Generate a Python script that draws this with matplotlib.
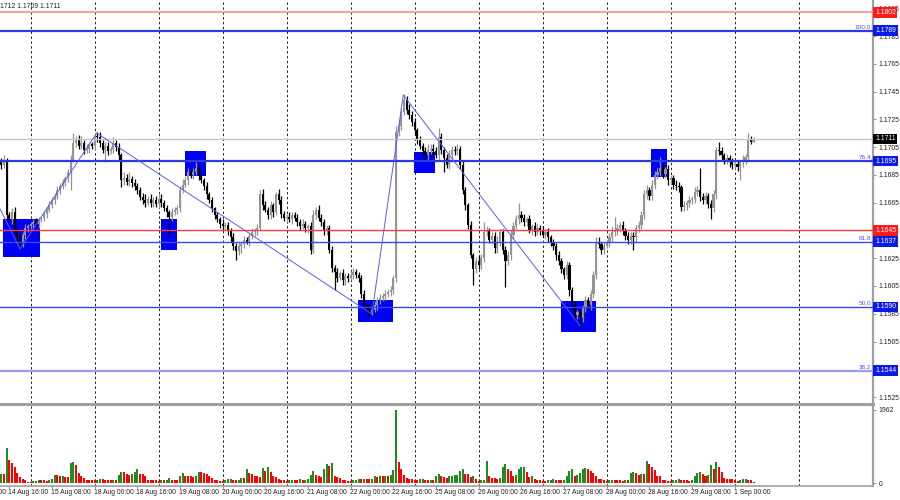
import numpy as np
import matplotlib
matplotlib.use("Agg")
import matplotlib.pyplot as plt
from matplotlib.patches import Rectangle
from matplotlib.lines import Line2D
import matplotlib.transforms as mtransforms
from matplotlib import font_manager

# ---------------- data (EURUSD H1) ----------------
first_bar = -11          # bar index of first candle (15 Aug 00:00 = bar 0)
first_open = 1.1695
closes = [
    1.1692, 1.1696, 1.1656, 1.1653, 1.1658, 1.1645, 1.1640, 1.1637, 1.1642, 1.1647,
    1.1648, 1.1650, 1.1651, 1.1650, 1.1653, 1.1654, 1.1657, 1.1660, 1.1663, 1.1667,
    1.1670, 1.1674, 1.1677, 1.1680, 1.1683, 1.1687, 1.1696, 1.1708, 1.1710, 1.1706,
    1.1708, 1.1703, 1.1704, 1.1707, 1.1706, 1.1713, 1.1712, 1.1708, 1.1703, 1.1706,
    1.1702, 1.1704, 1.1708, 1.1705, 1.1699, 1.1681, 1.1683, 1.1680, 1.1682, 1.1679,
    1.1677, 1.1674, 1.1669, 1.1667, 1.1665, 1.1668, 1.1665, 1.1667, 1.1664, 1.1668,
    1.1665, 1.1661, 1.1658, 1.1655, 1.1658, 1.1660, 1.1661, 1.1674, 1.1678, 1.1681,
    1.1687, 1.1685, 1.1687, 1.1690, 1.1684, 1.1681, 1.1677, 1.1671, 1.1667, 1.1661,
    1.1656, 1.1653, 1.1650, 1.1648, 1.1649, 1.1645, 1.1640, 1.1634, 1.1630, 1.1634,
    1.1635, 1.1638, 1.1637, 1.1641, 1.1644, 1.1645, 1.1647, 1.1671, 1.1663, 1.1660,
    1.1656, 1.1663, 1.1658, 1.1671, 1.1667, 1.1657, 1.1654, 1.1655, 1.1653, 1.1656,
    1.1654, 1.1651, 1.1648, 1.1650, 1.1647, 1.1648, 1.1631, 1.1656, 1.1660, 1.1654,
    1.1651, 1.1645, 1.1647, 1.1631, 1.1618, 1.1615, 1.1611, 1.1614, 1.1609, 1.1612,
    1.1611, 1.1613, 1.1615, 1.1613, 1.1611, 1.1599, 1.1591, 1.1589, 1.1586, 1.1588,
    1.1591, 1.1595, 1.1596, 1.1598, 1.1599, 1.1601, 1.1602, 1.1611, 1.1716, 1.1720,
    1.1730, 1.1739, 1.1732, 1.1728, 1.1723, 1.1717, 1.1710, 1.1706, 1.1702, 1.1699,
    1.1703, 1.1704, 1.1702, 1.1699, 1.1712, 1.1703, 1.1697, 1.1692, 1.1699, 1.1703,
    1.1702, 1.1704, 1.1692, 1.1674, 1.1663, 1.1649, 1.1627, 1.1617, 1.1623, 1.1620,
    1.1625, 1.1644, 1.1645, 1.1638, 1.1641, 1.1632, 1.1637, 1.1644, 1.1631, 1.1623,
    1.1627, 1.1642, 1.1648, 1.1653, 1.1656, 1.1654, 1.1651, 1.1653, 1.1645, 1.1648,
    1.1644, 1.1647, 1.1645, 1.1642, 1.1644, 1.1640, 1.1637, 1.1634, 1.1627, 1.1623,
    1.1617, 1.1613, 1.1620, 1.1602, 1.1591, 1.1584, 1.1586, 1.1582, 1.1589, 1.1595,
    1.1591, 1.1599, 1.1613, 1.1637, 1.1635, 1.1631, 1.1634, 1.1636, 1.1640, 1.1644,
    1.1645, 1.1647, 1.1649, 1.1645, 1.1641, 1.1638, 1.1641, 1.1640, 1.1647, 1.1649,
    1.1656, 1.1671, 1.1674, 1.1670, 1.1678, 1.1685, 1.1687, 1.1690, 1.1686, 1.1689,
    1.1681, 1.1683, 1.1678, 1.1677, 1.1676, 1.1662, 1.1663, 1.1665, 1.1667, 1.1668,
    1.1673, 1.1674, 1.1669, 1.1667, 1.1670, 1.1664, 1.1661, 1.1671, 1.1703, 1.1702,
    1.1699, 1.1696, 1.1697, 1.1694, 1.1692, 1.1693, 1.1691, 1.1694, 1.1696, 1.1698,
    1.1710, 1.1709, 1.1711,
]
upper_wick_pips = [
    2, 3, 1, 2, 3, 4, 2, 3, 2, 3,   2, 1, 2, 3, 2, 1, 2, 2, 3, 2,
    2, 3, 2, 2, 1, 2, 3, 7, 3, 4,   5, 2, 3, 2, 2, 2, 3, 4, 2, 3,
    3, 2, 4, 2, 3, 2, 4, 3, 5, 2,   3, 2, 2, 3, 4, 2, 3, 2, 3, 4,
    3, 2, 2, 2, 3, 2, 2, 3, 4, 3,   3, 2, 3, 4, 3, 2, 2, 3, 2, 2,
    1, 2, 2, 3, 2, 2, 2, 3, 2, 3,   2, 3, 2, 2, 3, 2, 3, 3, 4, 3,
    2, 3, 2, 2, 4, 3, 2, 2, 3, 2,   2, 3, 2, 3, 2, 2, 3, 4, 2, 3,
    3, 2, 2, 2, 3, 2, 3, 2, 3, 2,   2, 3, 3, 2, 2, 2, 3, 2, 3, 2,
    3, 2, 3, 2, 3, 2, 3, 2, 4, 5,   3, 4, 3, 4, 3, 3, 2, 3, 2, 3,
    4, 3, 3, 3, 7, 3, 2, 3, 4, 3,   3, 3, 2, 3, 2, 2, 3, 2, 3, 4,
    3, 7, 3, 2, 3, 3, 4, 2, 2, 3,   3, 3, 3, 3, 9, 3, 3, 2, 3, 2,
    3, 3, 2, 3, 2, 3, 2, 2, 2, 3,   2, 2, 3, 2, 2, 3, 2, 3, 2, 3,
    2, 3, 3, 3, 3, 2, 3, 2, 3, 4,   10, 3, 2, 3, 2, 3, 3, 3, 2, 3,
    3, 3, 4, 2, 3, 3, 3, 8, 3, 2,   3, 2, 2, 3, 3, 2, 3, 2, 3, 2,
    3, 3, 16, 3, 3, 2, 3, 3, 2, 6,  3, 2, 3, 2, 3, 2, 3, 2, 3, 2,
    5, 3, 1,
]
lower_wick_pips = [
    3, 2, 3, 2, 3, 2, 3, 5, 4, 3,   3, 2, 3, 2, 3, 2, 2, 3, 2, 2,
    3, 2, 3, 2, 3, 3, 13, 2, 3, 2,  2, 3, 2, 3, 2, 3, 3, 3, 2, 9,
    3, 2, 3, 3, 3, 5, 3, 2, 3, 3,   3, 3, 2, 3, 3, 2, 3, 3, 2, 3,
    3, 2, 3, 15, 3, 2, 3, 3, 2, 2,  3, 2, 3, 2, 3, 2, 3, 3, 2, 3,
    3, 2, 3, 3, 2, 3, 3, 3, 6, 3,   5, 3, 2, 3, 2, 3, 3, 2, 3, 2,
    3, 3, 3, 2, 3, 3, 2, 3, 2, 3,   2, 3, 3, 2, 3, 4, 3, 2, 3, 2,
    3, 3, 3, 2, 3, 13, 3, 2, 3, 3,  3, 2, 3, 2, 3, 3, 3, 3, 3, 2,
    2, 3, 3, 2, 3, 2, 3, 3, 3, 3,   3, 2, 3, 3, 3, 3, 3, 2, 3, 3,
    3, 3, 3, 2, 3, 3, 10, 2, 3, 3,  3, 3, 3, 3, 3, 3, 2, 11, 3, 3,
    3, 3, 3, 2, 3, 3, 3, 3, 3, 19,  3, 3, 3, 2, 3, 3, 3, 3, 2, 3,
    3, 2, 3, 2, 3, 3, 3, 3, 3, 3,   3, 3, 3, 4, 3, 3, 3, 7, 3, 3,
    3, 3, 3, 3, 3, 3, 3, 2, 3, 3,   3, 3, 3, 3, 3, 3, 3, 9, 3, 3,
    3, 3, 3, 3, 3, 3, 3, 3, 3, 3,   3, 3, 3, 3, 3, 3, 3, 3, 3, 3,
    3, 3, 3, 3, 3, 3, 8, 3, 3, 3,   3, 3, 3, 3, 3, 3, 3, 10, 3, 3,
    2, 2, 0,
]
volumes = [
    243, 243, 945, 630, 558, 450, 270, 180, 108, 90,
    45, 27, 63, 72, 99, 81, 81, 72, 99, 108,
    225, 216, 189, 207, 171, 171, 558, 576, 495, 270,
    207, 153, 90, 90, 90, 90, 99, 108, 108, 81,
    81, 81, 99, 99, 225, 297, 297, 261, 216, 261,
    315, 378, 261, 243, 207, 90, 90, 90, 90, 63,
    81, 81, 90, 153, 99, 99, 99, 207, 270, 189,
    189, 189, 171, 189, 315, 315, 288, 243, 198, 153,
    90, 90, 72, 72, 90, 117, 126, 90, 90, 99,
    135, 135, 378, 270, 243, 198, 198, 171, 405, 333,
    450, 297, 198, 162, 117, 81, 81, 63, 81, 99,
    99, 99, 108, 90, 99, 108, 225, 333, 216, 207,
    180, 396, 522, 468, 558, 189, 162, 135, 99, 81,
    72, 63, 81, 99, 108, 108, 117, 117, 108, 117,
    207, 180, 189, 189, 207, 207, 225, 360, 1962, 585,
    378, 225, 135, 117, 117, 81, 81, 108, 117, 90,
    90, 99, 81, 207, 243, 207, 171, 135, 198, 207,
    225, 234, 342, 378, 261, 261, 171, 189, 117, 72,
    81, 90, 612, 207, 153, 135, 117, 135, 432, 513,
    378, 333, 198, 225, 387, 432, 450, 315, 180, 207,
    108, 99, 90, 63, 63, 81, 99, 108, 81, 81,
    81, 99, 198, 333, 396, 189, 225, 270, 378, 405,
    387, 333, 270, 198, 117, 117, 99, 72, 81, 99,
    90, 81, 81, 72, 81, 81, 270, 297, 279, 225,
    243, 243, 603, 522, 432, 360, 207, 198, 81, 81,
    72, 72, 81, 99, 126, 99, 90, 81, 72, 99,
    207, 288, 297, 243, 207, 225, 495, 378, 567, 432,
    315, 153, 108, 108, 108, 81, 72, 81, 108, 117,
    99, 90, 45,
]

time_labels = ["14 Aug 00:00", "14 Aug 16:00", "15 Aug 08:00", "18 Aug 00:00",
               "18 Aug 16:00", "19 Aug 08:00", "20 Aug 00:00", "20 Aug 16:00",
               "21 Aug 08:00", "22 Aug 00:00", "22 Aug 16:00", "25 Aug 08:00",
               "26 Aug 00:00", "26 Aug 16:00", "27 Aug 08:00", "28 Aug 00:00",
               "28 Aug 16:00", "29 Aug 08:00", "1 Sep 00:00"]
time_label_bars = [-24, -8, 8, 24, 40, 56, 72, 88, 104, 120, 136, 152,
                   168, 184, 200, 216, 232, 248, 264]
day_start_bars = [0, 24, 48, 72, 96, 120, 144, 168, 192, 216, 240, 264, 288]

price_ticks = [1.1525, 1.1565, 1.1585, 1.1605, 1.1625, 1.1665, 1.1685,
               1.1705, 1.1725, 1.1745, 1.1765, 1.1785, 1.1805]
hidden_price_ticks = [1.1545, 1.1645]   # covered by the level boxes

level_prices = [1.1802, 1.1789, 1.1711, 1.1695, 1.1645, 1.1637, 1.1590, 1.1544]
level_fib_text = ["", "100.0", "", "76.4", "", "61.8", "50.0", "38.2"]
level_kind = ["red_light", "blue_thick", "bid", "blue_thick", "red", "blue", "blue", "blue_light"]

zone_bar_start = [-10.4, 48.9, 57.9, 122.7, 143.8, 198.7, 232.6]
zone_bar_end = [3.5, 54.7, 65.7, 135.9, 151.7, 211.8, 238.7]
zone_price_low = [1.16259, 1.16310, 1.16845, 1.15791, 1.16862, 1.15721, 1.16837]
zone_price_high = [1.16530, 1.16530, 1.17020, 1.15949, 1.17013, 1.15944, 1.17039]

zigzag_bars = [-11.5, -4.0, 24.75, 127.9, 139.7, 206.0]
zigzag_prices = [1.16605, 1.16317, 1.17152, 1.15848, 1.17426, 1.15762]

header_text = "1712 1.1709 1.1711"
vol_max_label = 1962

# ---------------- derived candle values ----------------
n = len(closes)
xb = np.arange(first_bar, first_bar + n)
c = np.array(closes)
o = np.array([first_open] + closes[:-1])
hi = np.maximum(o, c) + np.array(upper_wick_pips) * 1e-4
lo = np.minimum(o, c) - np.array(lower_wick_pips) * 1e-4
bull = c >= o
cols = np.where(bull, "#949494", "#000000")

vol = np.array(volumes)
vup = np.concatenate([[True], vol[1:] > vol[:-1]])
vcols = np.where(vup, "#1e8c1e", "#ff0000")

# ---------------- fonts ----------------
names = {f.name for f in font_manager.fontManager.ttflist}
if "Liberation Sans Narrow" in names:
    FONT = "Liberation Sans Narrow"
    FS = 5.6
else:
    FONT = "Liberation Sans"
    FS = 4.9
plt.rcParams["font.family"] = [FONT, "DejaVu Sans"]

# ---------------- figure ----------------
W, H = 900, 500
fig = plt.figure(figsize=(9, 5), dpi=100)
fig.patch.set_facecolor("white")

R = 873  # right edge of plotting area (px)
ax = fig.add_axes([0, 1 - 403 / H, R / W, 403 / H])
axv = fig.add_axes([0, 1 - 486 / H, R / W, 81 / H])

xlim = (-11.51, 315.8)
ax.set_xlim(*xlim)
ax.set_ylim(1.15207, 1.18110)
axv.set_xlim(*xlim)
axv.set_ylim(-67, 2095)

for a in (ax, axv):
    for s in ("left", "top", "bottom"):
        a.spines[s].set_visible(False)
    a.spines["right"].set_color("#a0a0a0")
    a.spines["right"].set_linewidth(1.6)
    a.yaxis.tick_right()
    a.tick_params(axis="y", length=2.5, width=0.6, color="#808080",
                  labelsize=FS, pad=1.5, labelcolor="#202020")
    a.set_xticks([])
    for b in day_start_bars:
        a.axvline(b, color="#202020", lw=0.7, ls=(0, (2.5, 2.5)), zorder=1)

axv.spines["bottom"].set_visible(True)
axv.spines["bottom"].set_color("#a0a0a0")
axv.spines["bottom"].set_linewidth(1.2)

ax.set_yticks(price_ticks)
ax.set_yticklabels([f"{v:.4f}" for v in price_ticks])
ax.set_yticks(hidden_price_ticks, minor=True)
ax.tick_params(axis="y", which="minor", length=2.5, width=0.6, color="#808080")
axv.set_yticks([0, vol_max_label])
axv.set_yticklabels(["0", str(vol_max_label)])

# separator between panels
fig.add_artist(Line2D([0, R / W], [1 - 404 / H] * 2, color="#a0a0a0", lw=2.2))

# zones (behind candles)
for b0, b1, p0, p1 in zip(zone_bar_start, zone_bar_end, zone_price_low, zone_price_high):
    ax.add_patch(Rectangle((b0, p0), b1 - b0, p1 - p0, facecolor="#0000f5",
                           edgecolor="none", zorder=1.5))

# candles
ax.vlines(xb, lo, hi, colors=cols, lw=0.9, zorder=3)
body_h = np.maximum(np.abs(c - o), 0.00003)
ax.bar(xb, body_h, bottom=np.minimum(o, c), width=0.78, color=cols, lw=0, zorder=3.1)

# levels
styles = {
    "red_light": dict(color="#f4a2a2", lw=1.6),
    "blue_thick": dict(color="#2a3ae0", lw=1.6),
    "bid": dict(color="#c8c8c8", lw=1.0),
    "red": dict(color="#ff3c3c", lw=1.0),
    "blue": dict(color="#3848f0", lw=1.0),
    "blue_light": dict(color="#9c9cf8", lw=1.6),
}
box_colors = {"red_light": "#ff1a1a", "red": "#ff1a1a", "bid": "#000000",
              "blue_thick": "#0a1ae8", "blue": "#0a1ae8", "blue_light": "#0a1ae8"}
trans = mtransforms.blended_transform_factory(ax.transAxes, ax.transData)
for p, ft, k in zip(level_prices, level_fib_text, level_kind):
    ax.axhline(p, zorder=4, **styles[k])
    ax.text(1.0 + 2.0 / R, p, f"{p:.4f}", transform=trans, ha="left", va="center",
            fontsize=FS, color="white", clip_on=False, zorder=10,
            bbox=dict(boxstyle="square,pad=0.25", fc=box_colors[k], ec="none"))
    if ft:
        ax.text(1.0 - 2 / R, p + 0.00004, ft, transform=trans, ha="right", va="bottom",
                fontsize=FS - 0.3, color="#4a4aff", zorder=5)

# zigzag
ax.plot(zigzag_bars, zigzag_prices, color="#5a5aff", lw=0.7, zorder=4.5)

# volumes
axv.bar(xb, vol, width=0.75, color=vcols, lw=0, zorder=3)

# time labels
tv = mtransforms.blended_transform_factory(axv.transData, axv.transAxes)
for b, t in zip(time_label_bars, time_labels):
    axv.text(b - 0.4, -0.075, t, transform=tv, ha="left", va="center",
             fontsize=FS, color="#202020", clip_on=False)
    axv.plot([b, b], [0, -0.03], transform=tv, color="#808080", lw=0.6, clip_on=False)

fig.text(0.5 / W, 1 - 7 / H, header_text, ha="left", va="center", fontsize=FS, color="#202020")

fig.savefig("out.png", dpi=100, facecolor="white")
